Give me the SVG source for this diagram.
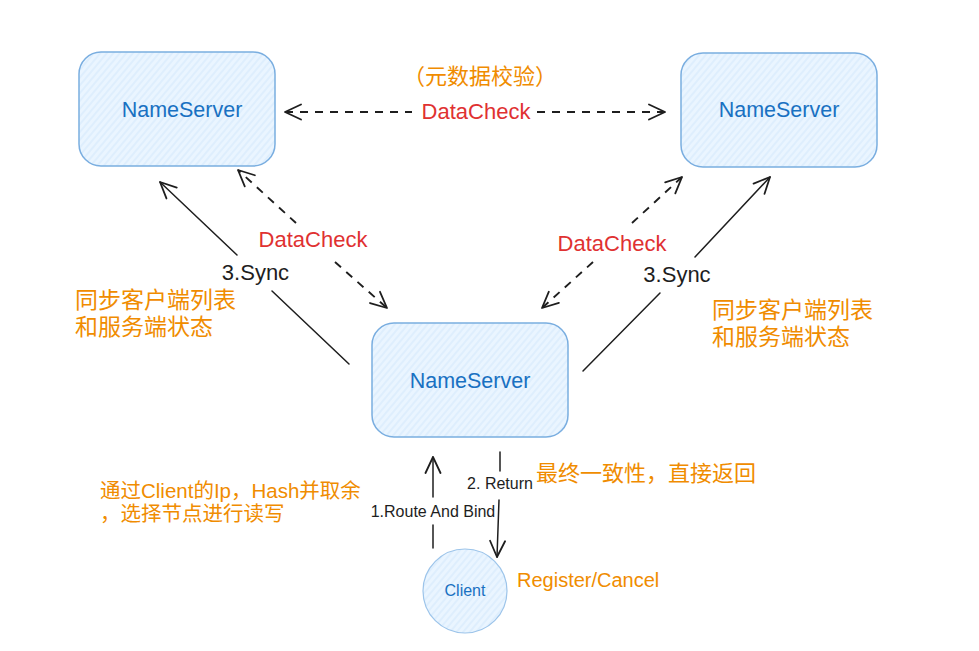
<svg xmlns="http://www.w3.org/2000/svg" width="979" height="651" viewBox="0 0 979 651">
<defs>
<pattern id="hatch" width="5" height="5" patternUnits="userSpaceOnUse" patternTransform="rotate(40)">
<rect width="5" height="5" fill="#eaf5ff"/>
<line x1="1" y1="0" x2="1" y2="5" stroke="#d6eafc" stroke-width="1.2"/>
</pattern>
<marker id="arr" viewBox="0 0 20 20" refX="19" refY="10" markerWidth="20" markerHeight="20" markerUnits="userSpaceOnUse" orient="auto-start-reverse">
<path d="M3,2.5 L19,10 L3,17.5" fill="none" stroke="#1e1e1e" stroke-width="1.8" stroke-linecap="round" stroke-linejoin="round"/>
</marker>
</defs>
<style>
.box{fill:url(#hatch);stroke:#7aaee0;stroke-width:1.5}
.nt{font-family:"Liberation Sans",Arial,sans-serif;font-size:21.5px;fill:#1971c2;text-anchor:middle}
.ln{fill:none;stroke:#1e1e1e;stroke-width:1.5;stroke-linecap:round}
.dash{stroke-dasharray:8 7;stroke-width:1.9;stroke-linecap:butt}
.red{font-family:"Liberation Sans",Arial,sans-serif;font-size:22px;fill:#e03131;text-anchor:middle}
.dk{font-family:"Liberation Sans",Arial,sans-serif;fill:#1e1e1e;text-anchor:middle}
.or{font-family:"Liberation Sans","Noto Sans CJK SC",sans-serif;fill:#f08c00}
</style>
<g id="node-ns-left">
<rect class="box" x="79" y="52" width="196" height="114" rx="22"/>
<text class="nt" x="182" y="117">NameServer</text>
</g>
<g id="node-ns-right">
<rect class="box" x="681" y="53" width="196" height="114" rx="22"/>
<text class="nt" x="779" y="117">NameServer</text>
</g>
<g id="node-ns-center">
<rect class="box" x="372" y="323" width="196" height="114" rx="22"/>
<text class="nt" x="470" y="388">NameServer</text>
</g>
<g id="node-client">
<circle cx="465" cy="591" r="42" fill="url(#hatch)" stroke="#9cc4ea" stroke-width="1.2"/>
<text x="465" y="596" font-family="'Liberation Sans',Arial,sans-serif" font-size="16" fill="#1971c2" text-anchor="middle">Client</text>
</g>
<g id="connectors">
<line class="ln dash" x1="285" y1="112" x2="412" y2="112" marker-start="url(#arr)"/>
<line class="ln dash" x1="537" y1="112" x2="665" y2="112" marker-end="url(#arr)"/>
<line class="ln dash" x1="296" y1="223" x2="238" y2="170" marker-end="url(#arr)"/>
<line class="ln dash" x1="335" y1="262" x2="387" y2="308" marker-end="url(#arr)"/>
<line class="ln dash" x1="632" y1="223" x2="682" y2="177" marker-end="url(#arr)"/>
<line class="ln dash" x1="593" y1="262" x2="542" y2="308" marker-end="url(#arr)"/>
<line class="ln" x1="237" y1="255" x2="160" y2="182" marker-end="url(#arr)"/>
<line class="ln" x1="272" y1="291" x2="349" y2="364"/>
<line class="ln" x1="695" y1="257" x2="770" y2="177" marker-end="url(#arr)"/>
<line class="ln" x1="660" y1="293" x2="583" y2="371"/>
<line class="ln" x1="433" y1="497" x2="433" y2="457" marker-end="url(#arr)"/>
<line class="ln" x1="433" y1="525" x2="433" y2="548"/>
<line class="ln" x1="500" y1="452" x2="500" y2="471"/>
<line class="ln" x1="499" y1="500" x2="497" y2="557" marker-end="url(#arr)"/>
</g>
<g id="labels">
<text class="or" x="480" y="84" font-size="22" text-anchor="middle">（元数据校验）</text>
<text class="red" x="476" y="119">DataCheck</text>
<text class="red" x="313" y="247">DataCheck</text>
<text class="red" x="612" y="251">DataCheck</text>
<text class="dk" x="255.5" y="280" font-size="22">3.Sync</text>
<text class="dk" x="677" y="282" font-size="22">3.Sync</text>
<text class="dk" x="433" y="517" font-size="16">1.Route And Bind</text>
<text class="dk" x="500" y="489" font-size="16">2. Return</text>
<text class="or" x="75" y="308" font-size="23">同步客户端列表</text>
<text class="or" x="75" y="335" font-size="23">和服务端状态</text>
<text class="or" x="712" y="318" font-size="23">同步客户端列表</text>
<text class="or" x="712" y="345" font-size="23">和服务端状态</text>
<text class="or" x="100" y="498" font-size="20.5">通过Client的Ip，Hash并取余</text>
<text class="or" x="100" y="521" font-size="20.5">，选择节点进行读写</text>
<text class="or" x="536" y="481" font-size="22">最终一致性，直接返回</text>
<text class="or" x="517" y="587" font-size="20">Register/Cancel</text>
</g>
</svg>
